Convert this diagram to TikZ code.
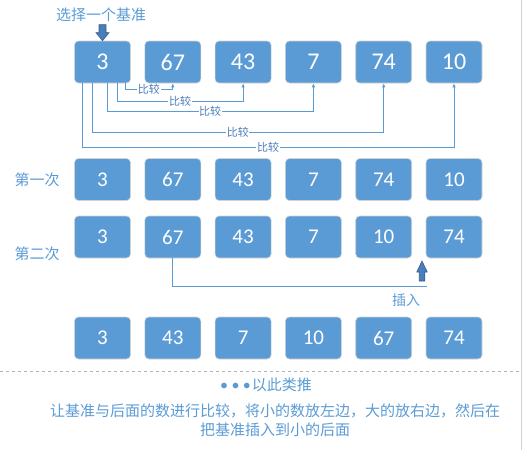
\documentclass[tikz,border=0pt]{standalone}
\usepackage{fontspec}
\setmainfont{Carlito}
\newfontfamily\cjk{Noto Sans CJK SC}
\usetikzlibrary{arrows.meta, positioning}
\definecolor{boxblue}{HTML}{5B9BD5}
\definecolor{arrowblue}{HTML}{4A7EBB}
\tikzset{
	numbox/.style={draw=gray!35, line width=0.6pt, fill=boxblue, rounded corners=4pt,
		minimum width=56pt, minimum height=42pt, text=white, font=\fontsize{21}{21}\selectfont}
}
\tikzset{
	bignum/.style={font=\fontsize{24}{24}\selectfont}
}
\tikzset{
	bluetext/.style={text=boxblue, font=\cjk\fontsize{15}{19}\selectfont},
	cmptext/.style={text=arrowblue, font=\cjk\fontsize{11}{11}\selectfont, fill=white, inner sep=0.6pt}
}
\tikzset{
	cmpline/.style={draw=boxblue, line width=0.8pt, -{Latex[length=4pt,width=3.5pt]}},
	blockfill/.style={fill=arrowblue, draw=arrowblue!75!black, line width=0.6pt}
}

\begin{document}
\begin{tikzpicture}[x=1pt, y=-1pt]
      \useasboundingbox (0,0) rectangle (529,450);
      % the base and its arrow
      \node[bluetext] (pick) at (101,15) {选择一个基准};
      \foreach \v [count=\i] in {3,67,43,7,74,10}
        \node[numbox, bignum] (top\i) at ({102.5+70.3*(\i-1)},62) {\v};
      \filldraw[blockfill] ([xshift=-3.5pt,yshift=16pt]top1.north) -- ++(7,0) -- ++(0,8) -- ++(3,0)
        -- (top1.north) -- ++(-6.5,-8) -- ++(3,0) -- cycle;
      % compare the base with every later number
      \draw[cmpline] ([xshift=22.5pt]top1.south) -- ++(0,6) -| node[pos=0.25, cmptext] {比较} (top2.south);
      \draw[cmpline] ([xshift=14.5pt]top1.south) -- ++(0,18) -| node[pos=0.25, cmptext] {比较} (top3.south);
      \draw[cmpline] ([xshift=4.5pt]top1.south) -- ++(0,28) -| node[pos=0.25, cmptext] {比较} (top4.south);
      \draw[cmpline] ([xshift=-10.5pt]top1.south) -- ++(0,49) -| node[pos=0.25, cmptext] {比较} (top5.south);
      \draw[cmpline] ([xshift=-20.5pt]top1.south) -- ++(0,64) -| node[pos=0.25, cmptext] {比较} (top6.south);
      % first and second pass
      \node[bluetext] (firstlbl) at (37,180) {第一次};
      \foreach \v [count=\i] in {3,67,43,7,74,10}
        \node[numbox] (first\i) at ({102.5+70.3*(\i-1)},179.5) {\v};
      \node[bluetext] (secondlbl) at (37,254) {第二次};
      \foreach \v [count=\i] in {3,67,43,7,10,74}
        \node[numbox] (second\i) at ({102.5+70.3*(\i-1)},237) {\v};
      % insert behind the smaller ones
      \coordinate (insend) at (427,286);
      \draw[boxblue, line width=1pt] (second2.south) |- (insend);
      \coordinate (insfoot) at (422,281);
      \filldraw[blockfill] ([xshift=-2.75pt]insfoot) -- ++(5.5,0) -- ++(0,-9) -- ++(2.5,0)
        -- ++(-5.25,-11) -- ++(-5.25,11) -- ++(2.5,0) -- cycle;
      \node[bluetext, font=\cjk\fontsize{14}{14}\selectfont] (inslbl) at (406,300) {插入};
      \foreach \v [count=\i] in {3,43,7,10,67,74}
        \node[numbox] (last\i) at ({102.5+70.3*(\i-1)},338) {\v};
      % separator and notes
      \draw[gray!60, dashed, line width=0.8pt] (0,371) -- (519,371);
      \draw[gray!35, line width=0.6pt] (521,0) -- (521,450);
      \node[bluetext] (etc) at (266,385) {{\rmfamily\fontsize{16}{16}\selectfont •\hspace{3.5pt}•\hspace{3.5pt}•\hspace{1pt}}以此类推};
      \node[bluetext, align=center] (note) at (275,420) {让基准与后面的数进行比较，将小的数放左边，大的放右边，然后在\\把基准插入到小的后面};
    \end{tikzpicture}
\end{document}
